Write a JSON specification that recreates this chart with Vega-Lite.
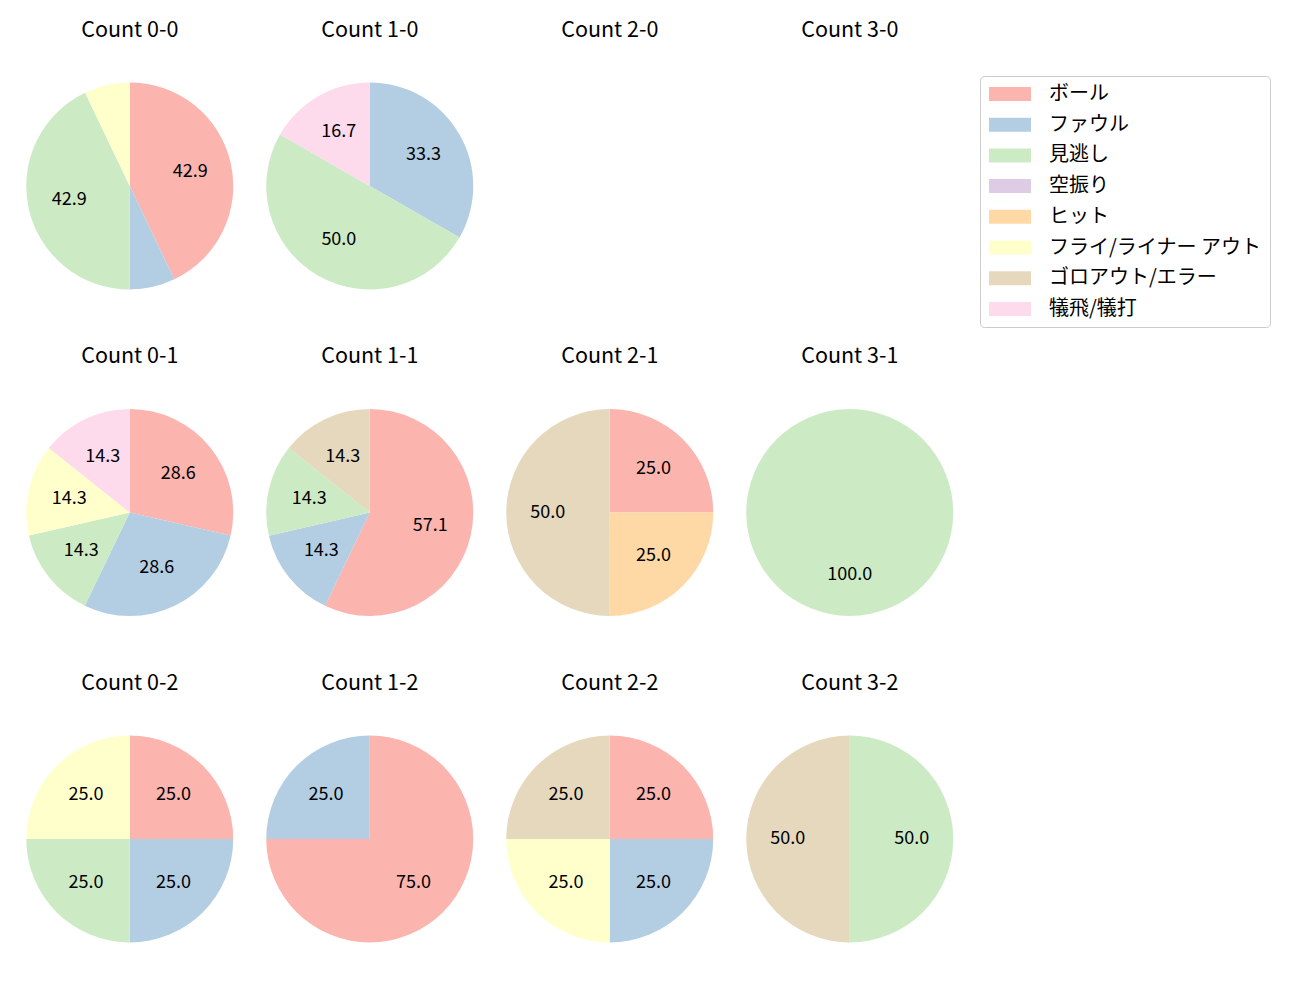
{
  "$schema": "https://vega.github.io/schema/vega-lite/v6.json",
  "background": "white",
  "padding": {"left": 10, "top": 19, "right": 0, "bottom": 0},
  "data": {"values": [
    {"count": "Count 0-0", "kind": "ボール", "o": 1, "pct": 42.9},
    {"count": "Count 0-0", "kind": "ファウル", "o": 2, "pct": 7.1},
    {"count": "Count 0-0", "kind": "見逃し", "o": 3, "pct": 42.9},
    {"count": "Count 0-0", "kind": "フライ/ライナー アウト", "o": 6, "pct": 7.1},
    {"count": "Count 1-0", "kind": "ファウル", "o": 2, "pct": 33.3},
    {"count": "Count 1-0", "kind": "見逃し", "o": 3, "pct": 50.0},
    {"count": "Count 1-0", "kind": "犠飛/犠打", "o": 8, "pct": 16.7},
    {"count": "Count 2-0", "kind": "ボール", "o": 1, "pct": 0},
    {"count": "Count 3-0", "kind": "ボール", "o": 1, "pct": 0},
    {"count": "Count 0-1", "kind": "ボール", "o": 1, "pct": 28.6},
    {"count": "Count 0-1", "kind": "ファウル", "o": 2, "pct": 28.6},
    {"count": "Count 0-1", "kind": "見逃し", "o": 3, "pct": 14.3},
    {"count": "Count 0-1", "kind": "フライ/ライナー アウト", "o": 6, "pct": 14.3},
    {"count": "Count 0-1", "kind": "犠飛/犠打", "o": 8, "pct": 14.3},
    {"count": "Count 1-1", "kind": "ボール", "o": 1, "pct": 57.1},
    {"count": "Count 1-1", "kind": "ファウル", "o": 2, "pct": 14.3},
    {"count": "Count 1-1", "kind": "見逃し", "o": 3, "pct": 14.3},
    {"count": "Count 1-1", "kind": "ゴロアウト/エラー", "o": 7, "pct": 14.3},
    {"count": "Count 2-1", "kind": "ボール", "o": 1, "pct": 25.0},
    {"count": "Count 2-1", "kind": "ヒット", "o": 5, "pct": 25.0},
    {"count": "Count 2-1", "kind": "ゴロアウト/エラー", "o": 7, "pct": 50.0},
    {"count": "Count 3-1", "kind": "見逃し", "o": 3, "pct": 100.0},
    {"count": "Count 0-2", "kind": "ボール", "o": 1, "pct": 25.0},
    {"count": "Count 0-2", "kind": "ファウル", "o": 2, "pct": 25.0},
    {"count": "Count 0-2", "kind": "見逃し", "o": 3, "pct": 25.0},
    {"count": "Count 0-2", "kind": "フライ/ライナー アウト", "o": 6, "pct": 25.0},
    {"count": "Count 1-2", "kind": "ボール", "o": 1, "pct": 75.0},
    {"count": "Count 1-2", "kind": "ファウル", "o": 2, "pct": 25.0},
    {"count": "Count 2-2", "kind": "ボール", "o": 1, "pct": 25.0},
    {"count": "Count 2-2", "kind": "ファウル", "o": 2, "pct": 25.0},
    {"count": "Count 2-2", "kind": "フライ/ライナー アウト", "o": 6, "pct": 25.0},
    {"count": "Count 2-2", "kind": "ゴロアウト/エラー", "o": 7, "pct": 25.0},
    {"count": "Count 3-2", "kind": "見逃し", "o": 3, "pct": 50.0},
    {"count": "Count 3-2", "kind": "ゴロアウト/エラー", "o": 7, "pct": 50.0}
  ]},
  "facet": {
    "field": "count",
    "type": "nominal",
    "sort": ["Count 0-0", "Count 1-0", "Count 2-0", "Count 3-0", "Count 0-1", "Count 1-1", "Count 2-1", "Count 3-1", "Count 0-2", "Count 1-2", "Count 2-2", "Count 3-2"],
    "header": {"title": null, "labelFontSize": 21.5, "labelFont": "Noto Sans CJK JP", "labelColor": "black", "labelPadding": 15}
  },
  "columns": 4,
  "spacing": {"row": 29.5, "column": 0},
  "spec": {
    "width": 239.5,
    "height": 260,
    "layer": [
      {
        "mark": {"type": "arc", "outerRadius": 103.5, "strokeWidth": 0},
        "encoding": {
          "theta": {"field": "pct", "type": "quantitative", "stack": true},
          "order": {"field": "o", "type": "quantitative"},
          "color": {
            "field": "kind",
            "type": "nominal",
            "scale": {
              "domain": ["ボール", "ファウル", "見逃し", "空振り", "ヒット", "フライ/ライナー アウト", "ゴロアウト/エラー", "犠飛/犠打"],
              "range": ["#fbb4ae", "#b3cde3", "#ccebc5", "#decbe4", "#fed9a6", "#ffffcc", "#e5d8bd", "#fddaec"]
            },
            "legend": {
              "title": null,
              "orient": "none",
              "legendX": 970,
              "legendY": 20
            }
          }
        }
      },
      {
        "mark": {"type": "text", "radius": 62, "fontSize": 18, "font": "Noto Sans CJK JP", "color": "black"},
        "encoding": {
          "theta": {"field": "pct", "type": "quantitative", "stack": true},
          "order": {"field": "o", "type": "quantitative"},
          "text": {"condition": {"test": "datum.pct < 10", "value": ""}, "field": "pct", "type": "quantitative", "format": ".1f"}
        }
      }
    ]
  },
  "resolve": {"scale": {"theta": "independent"}},
  "config": {
    "view": {"stroke": null},
    "legend": {
      "labelFont": "Noto Sans CJK JP",
      "labelFontSize": 20,
      "labelColor": "black",
      "labelLimit": 500,
      "symbolType": "M-1,-0.778H3.667V0.778H-1Z",
      "symbolSize": 324,
      "symbolStrokeWidth": 0,
      "symbolOpacity": 1,
      "labelOffset": 41,
      "rowPadding": 10.7,
      "padding": 8,
      "strokeColor": "#cccccc",
      "fillColor": "white",
      "cornerRadius": 4
    }
  }
}
